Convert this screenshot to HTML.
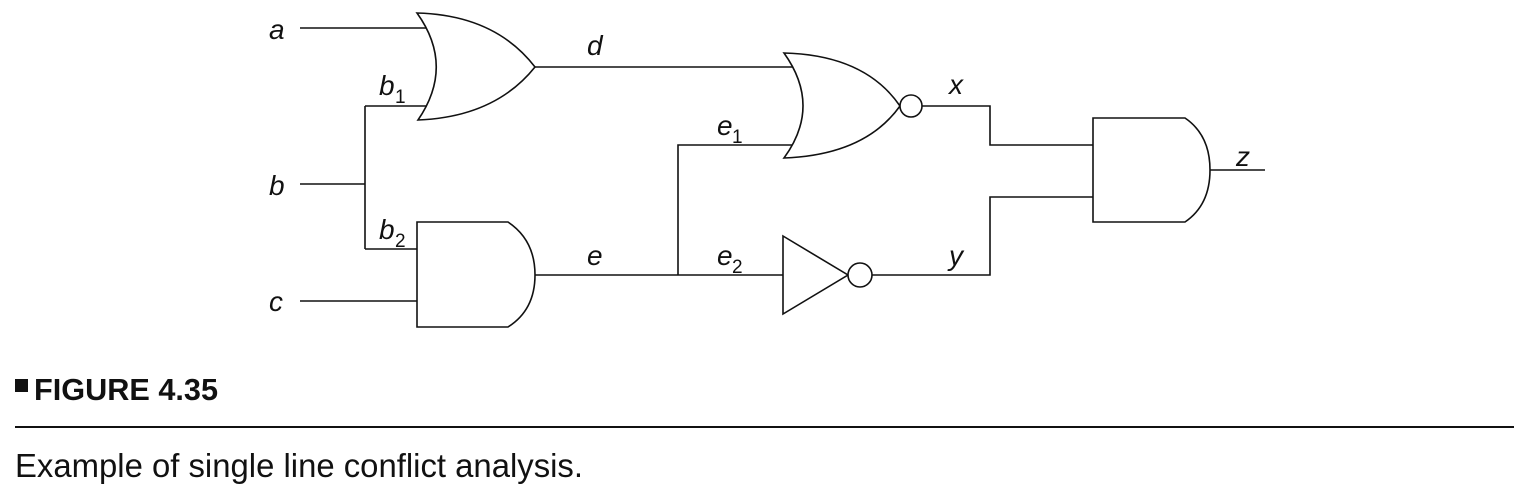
<!DOCTYPE html>
<html><head><meta charset="utf-8"><style>
html,body{margin:0;padding:0;background:#fff;}
svg{display:block;}
.l{font-family:"Liberation Sans",sans-serif;font-style:italic;font-size:28px;fill:#111;}
.s{font-family:"Liberation Sans",sans-serif;font-size:19px;fill:#111;}
</style></head><body>
<svg width="1527" height="494" viewBox="0 0 1527 494" xmlns="http://www.w3.org/2000/svg">
<g fill="none" stroke="#111" stroke-width="1.6">
<path d="M300 28H428"/>
<path d="M300 184H365M365 106V249M365 106H428M365 249H417"/>
<path d="M300 301H417"/>
<path d="M417 13Q455 66 418 120Q495 117 535 67Q495 15 417 13Z" fill="#fff"/>
<path d="M417 222H508Q535 240 535 275Q535 310 508 327H417Z" fill="#fff"/>
<path d="M535 67H794"/>
<path d="M535 275H783"/>
<path d="M678 275V145H792"/>
<path d="M784 53Q822 106 784 158Q865 155 900 106Q865 55 784 53Z" fill="#fff"/>
<circle cx="911" cy="106" r="11" fill="#fff"/>
<path d="M783 236L848 275L783 314Z" fill="#fff"/>
<circle cx="860" cy="275" r="12" fill="#fff"/>
<path d="M922 106H990V145H1093"/>
<path d="M872 275H990V197H1093"/>
<path d="M1093 118H1185Q1210 135 1210 170Q1210 205 1185 222H1093Z" fill="#fff"/>
<path d="M1210 170H1265"/>
</g>
<text class="l" x="269" y="39">a</text>
<text class="l" x="269" y="195">b</text>
<text class="l" x="269" y="311">c</text>
<text class="l" x="587" y="55">d</text>
<text class="l" x="379" y="95">b</text><text class="s" x="395" y="103">1</text>
<text class="l" x="379" y="239">b</text><text class="s" x="395" y="247">2</text>
<text class="l" x="587" y="265">e</text>
<text class="l" x="717" y="135">e</text><text class="s" x="732" y="143">1</text>
<text class="l" x="717" y="265">e</text><text class="s" x="732" y="273">2</text>
<text class="l" x="949" y="94">x</text>
<text class="l" x="949" y="265">y</text>
<text class="l" x="1236" y="166">z</text>
<rect x="15" y="379" width="13" height="13" fill="#111"/>
<text x="34" y="400" textLength="184" lengthAdjust="spacingAndGlyphs" style="font-family:'Liberation Sans Narrow','Liberation Sans',sans-serif;font-weight:bold;font-size:31px;fill:#111">FIGURE 4.35</text>
<rect x="15" y="426" width="1499" height="2" fill="#111"/>
<text x="15" y="477" textLength="568" lengthAdjust="spacingAndGlyphs" style="font-family:'Liberation Sans Narrow','Liberation Sans',sans-serif;font-size:33px;fill:#111">Example of single line conflict analysis.</text>
</svg>
</body></html>
